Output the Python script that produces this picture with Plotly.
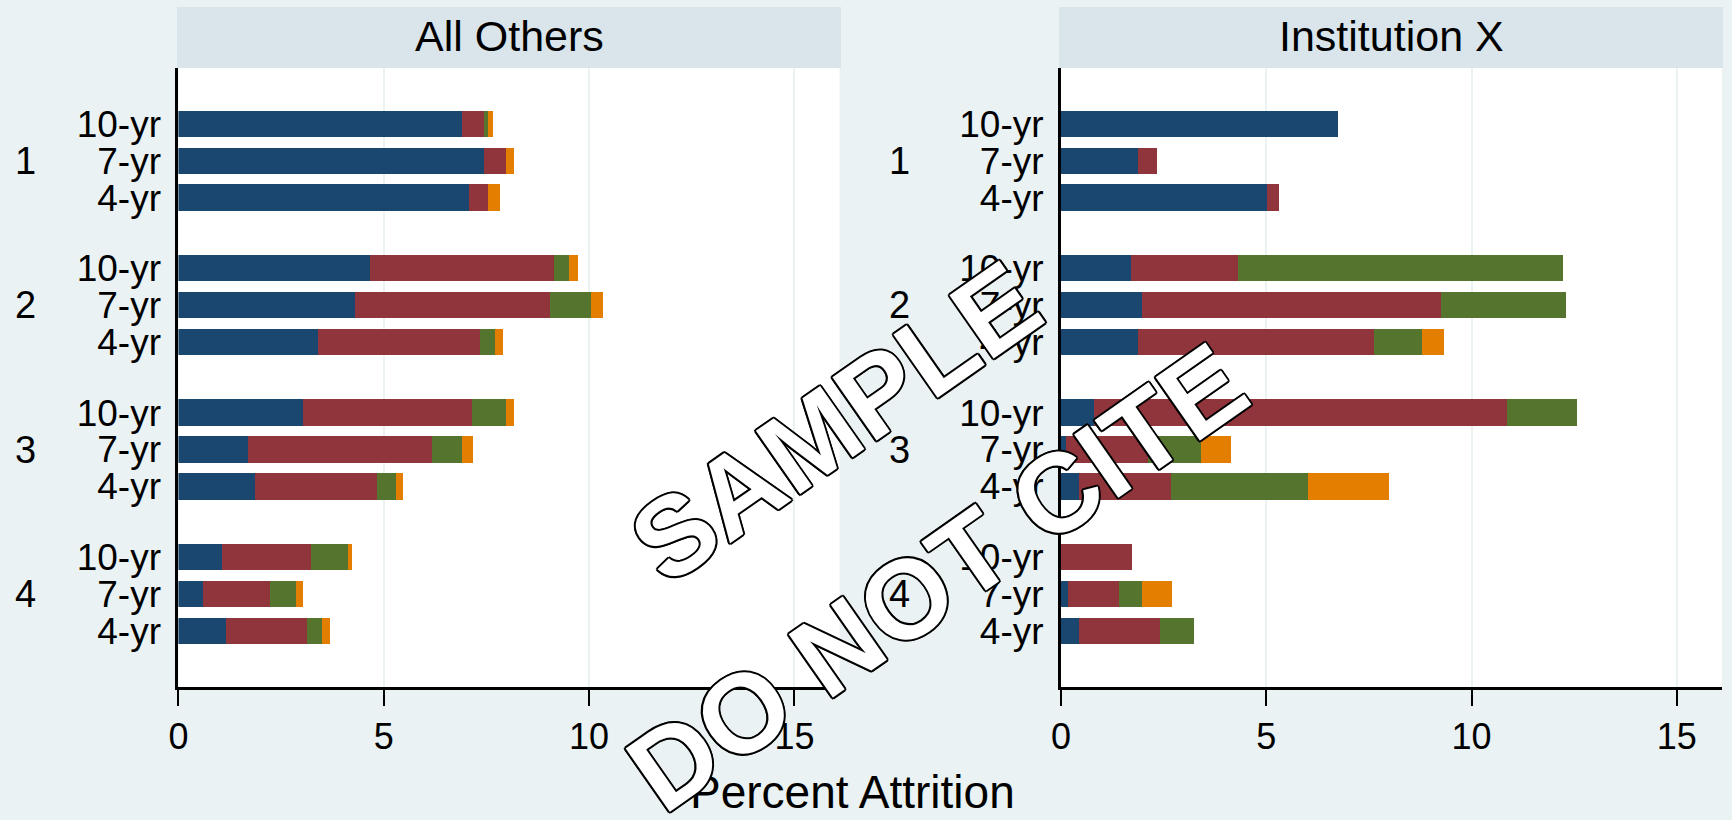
import plotly.graph_objects as go

# rows: groups 1-4, each with 10-yr / 7-yr / 4-yr (top to bottom)
GROUPS = ["1", "2", "3", "4"]
CADENCES = ["10-yr", "7-yr", "4-yr"]
PANELS = ["All Others", "Institution X"]

# segment lengths (percent attrition), ordered group 1 10-yr, 7-yr, 4-yr, group 2 ...
others_navy = [6.92, 7.45, 7.09, 4.67, 4.31, 3.40, 3.04, 1.70, 1.88, 1.06, 0.62, 1.16]
others_maroon = [0.53, 0.54, 0.46, 4.49, 4.76, 3.96, 4.13, 4.48, 2.96, 2.17, 1.61, 1.97]
others_green = [0.10, 0.00, 0.00, 0.35, 0.99, 0.36, 0.82, 0.74, 0.46, 0.90, 0.64, 0.37]
others_orange = [0.11, 0.19, 0.28, 0.22, 0.29, 0.20, 0.19, 0.26, 0.19, 0.11, 0.18, 0.20]

instx_navy = [6.75, 1.88, 5.01, 1.71, 1.98, 1.87, 0.81, 0.12, 0.43, 0.00, 0.16, 0.44]
instx_maroon = [0.00, 0.46, 0.30, 2.60, 7.27, 5.76, 10.05, 2.00, 2.24, 1.72, 1.26, 1.97]
instx_green = [0.00, 0.00, 0.00, 7.92, 3.06, 1.17, 1.72, 1.29, 3.34, 0.00, 0.56, 0.83]
instx_orange = [0.00, 0.00, 0.00, 0.00, 0.00, 0.54, 0.00, 0.73, 1.99, 0.00, 0.72, 0.00]

X_TICKS = [0, 5, 10, 15]

COLORS = ["#1a476f", "#90353b", "#55752f", "#e37e00"]
BG = "#eaf2f3"
STRIP = "#d9e5eb"
FONT = "Liberation Sans, Arial, sans-serif"

W, H = 1732, 820
GROUP_STRIDE = 3.91
positions = [g * GROUP_STRIDE + i for g in range(len(GROUPS)) for i in range(len(CADENCES))]
labels = [c for _ in GROUPS for c in CADENCES]
y_range = [positions[-1] + 1.52, positions[0] - 1.51]

panel_data = [
    [others_navy, others_maroon, others_green, others_orange],
    [instx_navy, instx_maroon, instx_green, instx_orange],
]

# pixel layout of the two panels
PLOT_TOP, PLOT_BOTTOM = 68, 687
STRIP_TOP = 7
panel_px = [(178.4, 839.6), (1061.0, 1722.0)]
group_label_px = [25, 899]

fig = go.Figure()
for p, series in enumerate(panel_data):
    xa = "x" if p == 0 else "x2"
    ya = "y" if p == 0 else "y2"
    for values, color in zip(series, COLORS):
        fig.add_trace(
            go.Bar(
                x=values,
                y=positions,
                orientation="h",
                width=0.714,
                marker={"color": color, "line": {"width": 0}},
                xaxis=xa,
                yaxis=ya,
                showlegend=False,
                hovertemplate="%{x:.2f}<extra></extra>",
            )
        )

y_bottom = 1 - PLOT_BOTTOM / H
y_top = 1 - PLOT_TOP / H
axis_common_x = dict(
    range=[0, 16.1],
    tickvals=X_TICKS,
    ticks="outside",
    ticklen=16,
    tickwidth=2,
    tickcolor="black",
    showline=True,
    linecolor="black",
    linewidth=3,
    showgrid=True,
    gridcolor=BG,
    gridwidth=2,
    zeroline=False,
    automargin=False,
    tickfont={"size": 36, "color": "black", "family": FONT},
)
axis_common_y = dict(
    range=y_range,
    tickvals=positions,
    ticktext=labels,
    ticks="",
    ticklabelstandoff=7,
    showline=True,
    linecolor="black",
    linewidth=3,
    showgrid=False,
    zeroline=False,
    automargin=False,
    tickfont={"size": 37, "color": "black", "family": FONT},
)

layout = dict(
    template="none",
    width=W,
    height=H,
    margin={"l": 0, "r": 0, "t": 0, "b": 0, "pad": 0},
    paper_bgcolor=BG,
    plot_bgcolor="white",
    barmode="stack",
    bargap=0,
    font={"family": FONT, "color": "black"},
)
for p, (x0, x1) in enumerate(panel_px):
    sfx = "" if p == 0 else "2"
    layout["xaxis" + sfx] = dict(axis_common_x, domain=[x0 / W, x1 / W], anchor="y" + sfx)
    layout["yaxis" + sfx] = dict(axis_common_y, domain=[y_bottom, y_top], anchor="x" + sfx)
fig.update_layout(**layout)

strip_x = [(177, 841), (1059, 1723)]
for p, (x0, x1) in enumerate(strip_x):
    fig.add_shape(
        type="rect", xref="paper", yref="paper",
        x0=x0 / W, x1=x1 / W, y0=y_top, y1=1 - STRIP_TOP / H,
        fillcolor=STRIP, line={"width": 0}, layer="below",
    )
    fig.add_annotation(
        text=PANELS[p], xref="paper", yref="paper",
        x=(x0 + x1) / 2 / W, y=1 - 36 / H, showarrow=False,
        xanchor="center", yanchor="middle",
        font={"size": 43, "color": "black", "family": FONT},
    )
    ya = "y" if p == 0 else "y2"
    for g, name in enumerate(GROUPS):
        fig.add_annotation(
            text=name, xref="paper", yref=ya,
            x=group_label_px[p] / W, y=positions[g * 3 + 1], showarrow=False,
            xanchor="center", yanchor="middle",
            font={"size": 38, "color": "black", "family": FONT},
        )

fig.add_annotation(
    text="Percent Attrition", xref="paper", yref="paper",
    x=852 / W, y=1 - 792 / H, showarrow=False,
    xanchor="center", yanchor="middle",
    font={"size": 46, "color": "black", "family": FONT},
)

# watermark: white letters with a black outline
outline = ", ".join(
    f"{dx}px {dy}px 0 #000" for dx, dy in
    [(2, 0), (-2, 0), (0, 2), (0, -2), (1.5, 1.5), (-1.5, -1.5), (1.5, -1.5), (-1.5, 1.5)]
)
for text, cx, cy, angle in [("SAMPLE", 835, 422, -35), ("DO NOT CITE", 937, 577, -35)]:
    fig.add_annotation(
        text=text, xref="paper", yref="paper",
        x=cx / W, y=1 - cy / H, showarrow=False,
        xanchor="center", yanchor="middle", textangle=angle,
        font={"size": 112, "color": "white", "family": FONT, "weight": 700, "shadow": outline},
    )

fig.write_html(
    "out.html",
    config={"displayModeBar": False},
    post_script="document.body.style.margin='0';document.body.style.background='%s';" % BG,
)
